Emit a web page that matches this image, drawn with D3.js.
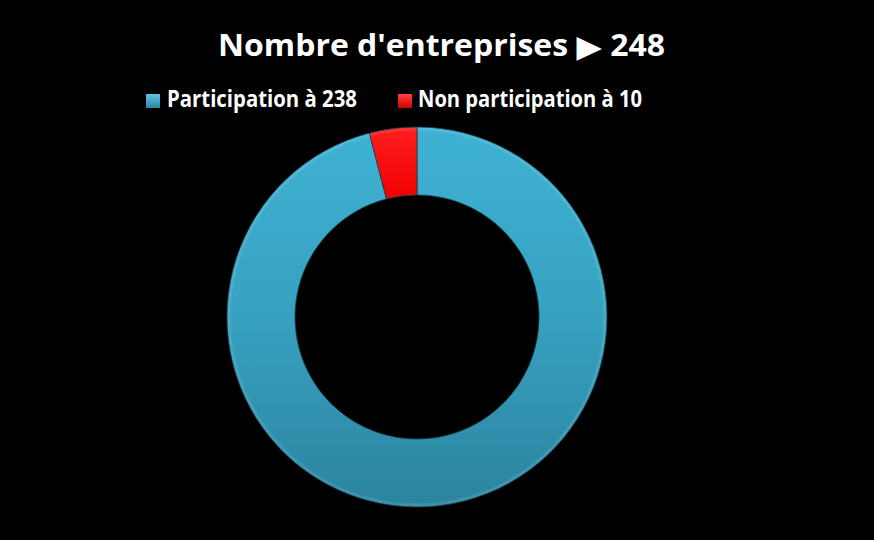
<!DOCTYPE html>
<html><head><meta charset="utf-8">
<script src="https://cdn.jsdelivr.net/npm/d3@7"></script>
<style>html,body{margin:0;padding:0;background:#000;}svg{display:block;}</style>
</head><body>
<svg id="c" width="874" height="540"></svg>
<script>
const categories = ["Participation à 238", "Non participation à 10"];
const values = [238, 10];
const titleMain = "Nombre d'entreprises ";
const titleArrow = "\u25B6";
const titleTotal = " 248";

const svg = d3.select("#c");
svg.append("rect").attr("width", 874).attr("height", 540).attr("fill", "#000");
const defs = svg.append("defs");
const gb = defs.append("linearGradient").attr("id", "gb")
  .attr("gradientUnits", "userSpaceOnUse").attr("x1", 0).attr("y1", -190).attr("x2", 0).attr("y2", 190);
gb.append("stop").attr("offset", 0).attr("stop-color", "#3FB2D3");
gb.append("stop").attr("offset", 0.5).attr("stop-color", "#37A1C0");
gb.append("stop").attr("offset", 1).attr("stop-color", "#2B849F");
const gr = defs.append("linearGradient").attr("id", "gr").attr("x1", 0).attr("y1", 0).attr("x2", 0).attr("y2", 1);
gr.append("stop").attr("offset", 0).attr("stop-color", "#FF1E1E");
gr.append("stop").attr("offset", 1).attr("stop-color", "#F00000");
const lb = defs.append("linearGradient").attr("id", "lb").attr("x1", 0).attr("y1", 0).attr("x2", 0).attr("y2", 1);
lb.append("stop").attr("offset", 0).attr("stop-color", "#5CC6E6");
lb.append("stop").attr("offset", 1).attr("stop-color", "#2A86A1");
const lr = defs.append("linearGradient").attr("id", "lr").attr("x1", 0).attr("y1", 0).attr("x2", 0).attr("y2", 1);
lr.append("stop").attr("offset", 0).attr("stop-color", "#FF4040");
lr.append("stop").attr("offset", 1).attr("stop-color", "#D00000");

const fills = d3.scaleOrdinal().domain(categories).range(["url(#gb)", "url(#gr)"]);
const legFills = d3.scaleOrdinal().domain(categories).range(["url(#lb)", "url(#lr)"]);

const cx = 417, cy = 317, rOut = 190, rIn = 122;
const pie = d3.pie().sort(null).value(d => d.v);
const arcs = pie(categories.map((c, i) => ({c, v: values[i]})));
const arc = d3.arc().innerRadius(rIn).outerRadius(rOut);
const g = svg.append("g").attr("transform", `translate(${cx},${cy})`);
g.selectAll("path").data(arcs).join("path")
  .attr("d", arc)
  .attr("fill", d => fills(d.data.c))
  .attr("stroke", "#14424f").attr("stroke-width", 0.8);
g.append("circle").attr("r", rOut - 2).attr("fill", "none").attr("stroke", "rgba(255,255,255,0.10)").attr("stroke-width", 3);

const font = "'Open Sans', 'Noto Sans', sans-serif";
const title = svg.append("text").attr("x", 441.5).attr("y", 56).attr("text-anchor", "middle")
  .attr("font-family", font).attr("font-weight", "bold").attr("font-size", 30).attr("fill", "#fff");
title.append("tspan").text(titleMain);
title.append("tspan").attr("font-family", "'DejaVu Sans', sans-serif").attr("font-size", 31).attr("dy", 1).text(titleArrow);
title.append("tspan").attr("dy", -1).text(titleTotal);
title.attr("textLength", 447).attr("lengthAdjust", "spacingAndGlyphs");

const legX = [146, 398], legTextX = [167, 418], legW = [190, 224];
const leg = svg.append("g");
categories.forEach((c, i) => {
  leg.append("rect").attr("x", legX[i]).attr("y", 94).attr("width", 14).attr("height", 14)
    .attr("fill", legFills(c));
  leg.append("text").attr("x", legTextX[i]).attr("y", 107)
    .attr("font-family", font).attr("font-weight", "bold").attr("font-size", 23).attr("fill", "#fff")
    .attr("textLength", legW[i]).attr("lengthAdjust", "spacingAndGlyphs")
    .text(c);
});
</script>
</body></html>
